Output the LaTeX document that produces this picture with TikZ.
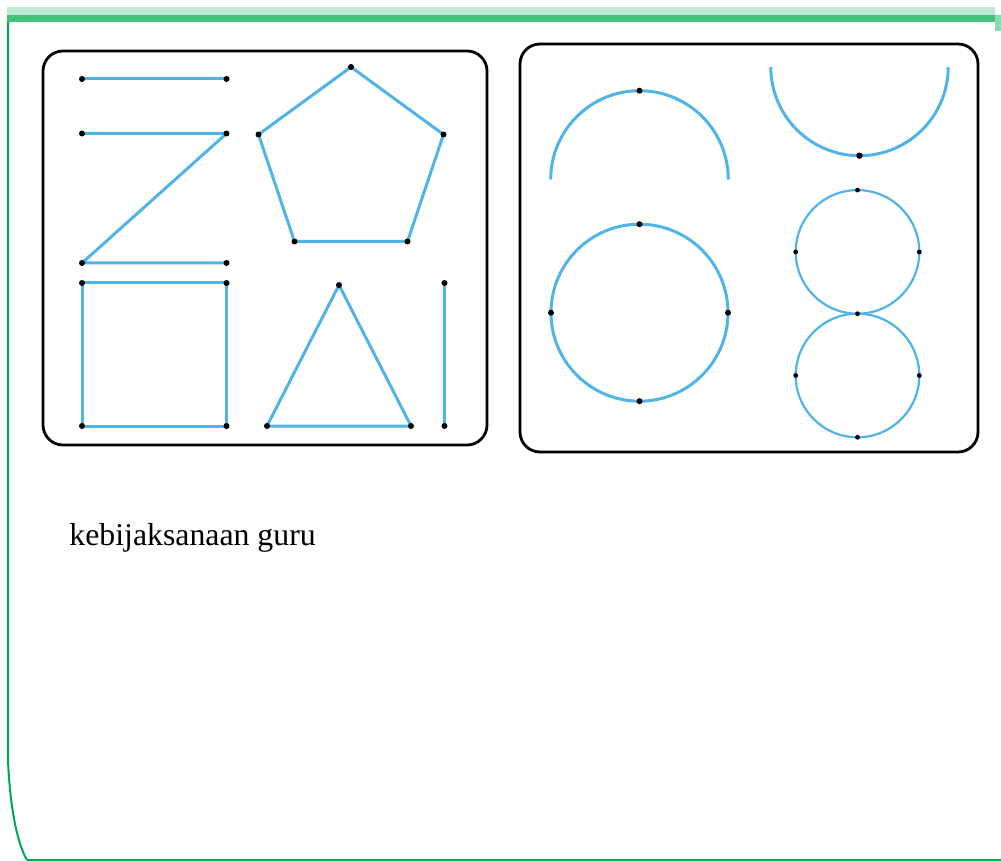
\documentclass[tikz,border=0pt]{standalone}
\usepackage{fontspec}
\setmainfont{Liberation Serif}
\usetikzlibrary{calc}
\definecolor{lineblue}{RGB}{80,180,232}
\definecolor{bandlight}{RGB}{190,234,212}
\definecolor{banddark}{RGB}{67,193,123}
\definecolor{edgegreen}{RGB}{0,168,80}
\tikzset{
  seg/.style={lineblue,line width=1.5pt,line join=round},
  thinseg/.style={lineblue,line width=1.1pt},
  panel/.style={black,line width=1.4pt,rounded corners=10pt},
  dot/.style={fill=black},
}
\begin{document}
\begin{tikzpicture}[x=0.5pt,y=-0.5pt]
    \useasboundingbox (0,0) rectangle (1001,861);
    % page frame
    \fill[bandlight] (7,7) rectangle (995,15);
    \fill[banddark] (7,15) rectangle (995,22.5);
    \fill[banddark!60] (995,15) rectangle (1001,31);
    \draw[edgegreen,line width=1pt] (8,22)--(8,760) .. controls (10,810) and (18,845) .. (27,860);
    \draw[edgegreen,line width=0.6pt] (27,860)--(1001,860);
    % panels
    \draw[panel] (43,51) rectangle (487,445);
    \draw[panel] (520,44) rectangle (978,452);
    % left panel: straight segments
    \coordinate (l1) at (82,79);     \coordinate (l2) at (226.5,79);
    \coordinate (z1) at (82,133.5);  \coordinate (z2) at (226.5,133.5);
    \coordinate (z3) at (82,263);    \coordinate (z4) at (226.5,263);
    \coordinate (s1) at (82,283);    \coordinate (s2) at (226.5,283);
    \coordinate (s3) at (226.5,426); \coordinate (s4) at (82,426);
    \coordinate (p1) at (351,67);    \coordinate (p2) at (443.5,134.5);
    \coordinate (p3) at (407.5,241.5); \coordinate (p4) at (294.5,241.5);
    \coordinate (p5) at (258.5,134.5);
    \coordinate (t1) at (339,285);   \coordinate (t2) at (411,426);
    \coordinate (t3) at (267,426);
    \coordinate (v1) at (444.5,283); \coordinate (v2) at (444.5,426);
    \draw[seg] (l1)--(l2);
    \draw[seg] (z1)--(z2)--(z3)--(z4);
    \draw[seg] (s1)--(s2)--(s3)--(s4)--cycle;
    \draw[seg] (p1)--(p2)--(p3)--(p4)--(p5)--cycle;
    \draw[seg] (t1)--(t2)--(t3)--cycle;
    \draw[seg] (v1)--(v2);
    \foreach \p in {l1,l2,z1,z2,z3,z4,s1,s2,s3,s4,p1,p2,p3,p4,p5,t1,t2,t3,v1,v2}
      \fill[dot] (\p) circle (3);
    % right panel: arcs and circles
    \coordinate (ca) at (639.5,179.5);
    \coordinate (cb) at (859.5,67);
    \coordinate (cc) at (639.5,312.7);
    \coordinate (cd) at (857.5,251.9);
    \coordinate (ce) at (857.5,375.5);
    \draw[seg] ($(ca)+(-88.8,0)$) arc[start angle=180,end angle=360,radius=88.8];
    \draw[seg] ($(cb)+(-88.7,0)$) arc[start angle=180,end angle=0,radius=88.7];
    \draw[seg] (cc) circle (88.5);
    \draw[thinseg] (cd) circle (61.8);
    \draw[thinseg] (ce) circle (61.8);
    \fill[dot] ($(ca)+(0,-88.8)$) circle (3);
    \fill[dot] ($(cb)+(0,88.7)$) circle (3.2);
    \foreach \a in {0,90,180,270}
      \fill[dot] ($(cc)+(\a:88.5)$) circle (3);
    \foreach \a in {0,180,270}
      \fill[dot] ($(cd)+(\a:61.8)$) circle (2.4);
    \foreach \a in {0,90,180,270}
      \fill[dot] ($(ce)+(\a:61.8)$) circle (2.4);
    \node[font=\fontsize{15.9}{19}\selectfont,anchor=base west,inner sep=0pt] (caption) at (69,545) {kebijaksanaan guru};
\end{tikzpicture}
\end{document}
